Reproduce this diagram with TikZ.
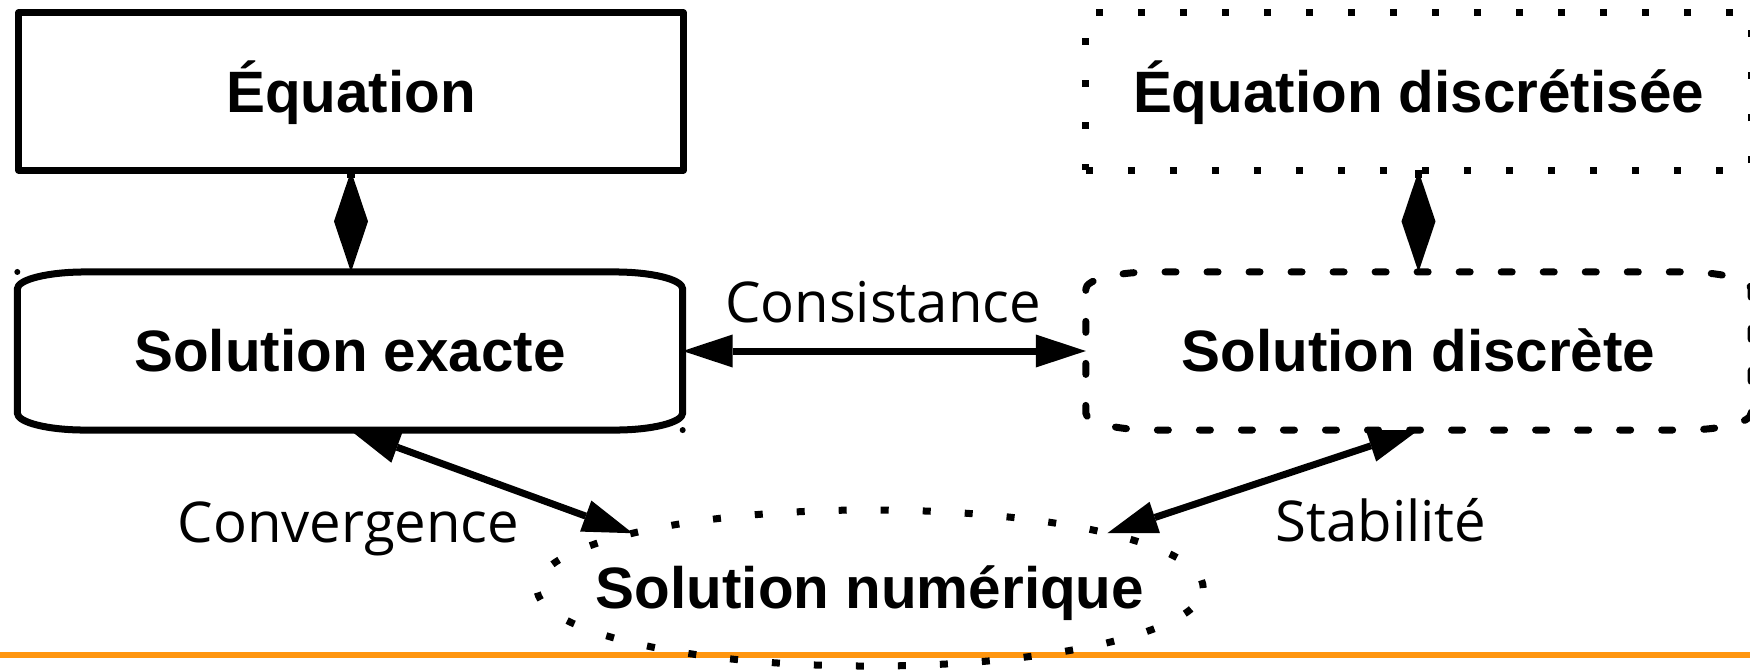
\documentclass[tikz,border=0pt]{standalone}
\usepackage{fontspec}
\setmainfont{Liberation Sans}
\newfontfamily\lblfont{Open Sans}
\usetikzlibrary{arrows.meta,shapes.geometric,calc}
\definecolor{barorange}{RGB}{255,150,16}
\begin{document}
\begin{tikzpicture}[x=0.01cm,y=-0.01cm,
  line width=0.07cm, line join=round,
  boxtext/.style={font=\fontsize{16.6}{20}\selectfont\bfseries, text height=11.9pt, text depth=0pt, inner sep=0pt, outer sep=0pt},
  solidbox/.style={boxtext, draw, rectangle, minimum width=6.645cm, minimum height=1.57cm},
  dotbox/.style={boxtext, draw, rectangle, minimum width=6.65cm, minimum height=1.57cm, dash pattern=on 0.07cm off 0.35cm, line cap=butt},
  tapebox/.style={boxtext, rectangle, minimum width=6.65cm, minimum height=1.58cm},
  numshape/.style={draw, ellipse, inner sep=0pt, outer sep=0pt, minimum width=6.66cm, minimum height=1.56cm, dash pattern=on 0.08cm off 0.34cm},
  lbl/.style={font=\lblfont\fontsize{16}{19}\selectfont, inner sep=0pt, anchor=base},
  dbl/.style={{Triangle[length=0.5cm,width=0.33cm,line width=0pt]}-{Triangle[length=0.5cm,width=0.33cm,line width=0pt]}},
  diam/.style={-{Kite[length=1.01cm,width=0.34cm,inset=0.505cm,line width=0pt]}},
  dashedtape/.style={dash pattern=on 0.11cm off 0.31cm, line cap=round},
  orangebar/.style={barorange, line width=0.06cm}
]
\useasboundingbox (0,0) rectangle (1750,669);
\fill[white] (0,0) rectangle (1750,669);

% orange rule
\coordinate (barL) at (0,655);
\coordinate (barR) at (1750,655);
\draw[orangebar] (barL) -- (barR);

% nodes
\node[solidbox] (eq) at (351,91.5) {Équation};
\node[tapebox] (ex) at (350,351) {Solution exacte};
\node[dotbox] (eqd) at (1418.5,91.5) {Équation discrétisée};
\node[tapebox] (sd) at (1418.5,351) {Solution discrète};
\node[numshape] (num) at (870,588) {};
\node[boxtext] (numtxt) at (num.center) {Solution numérique};

% tape outlines
\draw ([yshift=-0.17cm]ex.north west) arc[start angle=180,end angle=90,x radius=0.68cm,y radius=0.17cm]
  -- ([xshift=-0.68cm]ex.north east) arc[start angle=90,end angle=0,x radius=0.68cm,y radius=0.17cm]
  -- ([yshift=0.17cm]ex.south east) arc[start angle=0,end angle=-90,x radius=0.68cm,y radius=0.17cm]
  -- ([xshift=0.68cm]ex.south west) arc[start angle=270,end angle=180,x radius=0.68cm,y radius=0.17cm]
  -- cycle;
\draw[dashedtape] ([yshift=-0.17cm]sd.north west) arc[start angle=180,end angle=90,x radius=0.68cm,y radius=0.17cm]
  -- ([xshift=-0.68cm]sd.north east) arc[start angle=90,end angle=0,x radius=0.68cm,y radius=0.17cm]
  -- ([yshift=0.17cm]sd.south east) arc[start angle=0,end angle=-90,x radius=0.68cm,y radius=0.17cm]
  -- ([xshift=0.68cm]sd.south west) arc[start angle=270,end angle=180,x radius=0.68cm,y radius=0.17cm]
  -- cycle;
\fill (ex.north west) circle[radius=0.03cm];
\fill (ex.south east) circle[radius=0.03cm];

% labels
\node[lbl] (cons) at (883,322) {Consistance};
\node[lbl] (conv) at (348.5,542) {Convergence};
\node[lbl] (stab) at (1381,541) {Stabilité};

% connectors
\draw[diam] (eq.south) -- (eq.south |- ex.north);
\draw[diam] (eqd.south) -- (sd.north);
\draw[dbl] (ex.east) -- (sd.west);
\draw[dbl] (ex.south) -- (num.167);
\draw[dbl] (sd.south) -- (num.13);
\end{tikzpicture}
\end{document}
